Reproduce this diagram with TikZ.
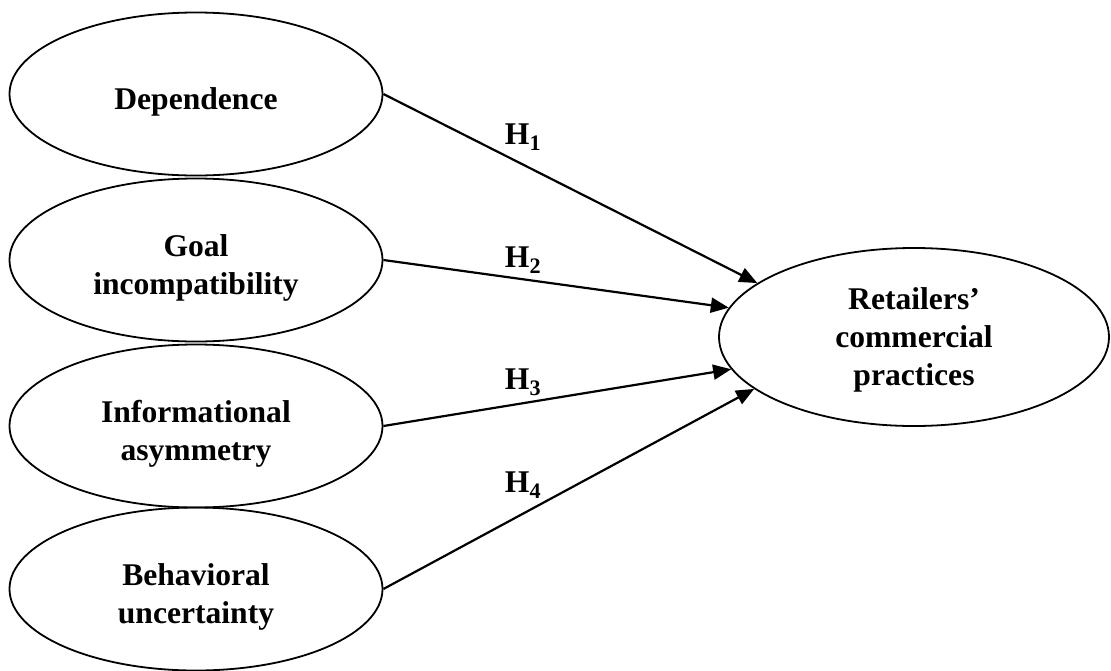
\documentclass[tikz,border=0pt]{standalone}
\usepackage{fontspec}
\setmainfont{Liberation Serif}
\usetikzlibrary{shapes.geometric,arrows.meta}
\begin{document}
\begin{tikzpicture}[x=1pt,y=-1pt,
  oval/.style={draw=black,line width=1.8pt,ellipse,inner sep=0pt,minimum width=373pt,minimum height=163pt},
  bigoval/.style={draw=black,line width=1.8pt,ellipse,inner sep=0pt,minimum width=390pt,minimum height=178pt},
  lbl/.style={align=center,inner sep=0pt,font=\fontsize{31.6}{38}\selectfont\bfseries},
  hyp/.style={inner sep=0pt,font=\fontsize{31.6}{38}\selectfont\bfseries},
  arr/.style={line width=2.2pt,-{Triangle[length=18pt,width=15pt]}}]
\useasboundingbox (0,0) rectangle (1111,670);
\node[oval] (A) at (196,94) {};
\node[oval] (B) at (196,260) {};
\node[oval] (C) at (196,426) {};
\node[oval] (D) at (196,589) {};
\node[bigoval] (R) at (914,337) {};
\node[lbl] (tA) at ([yshift=-8pt]A.center) {Dependence};
\node[lbl] (tB) at ([yshift=-8pt]B.center) {Goal\\incompatibility};
\node[lbl] (tC) at ([yshift=-8pt]C.center) {Informational\\asymmetry};
\node[lbl] (tD) at ([yshift=-8pt]D.center) {Behavioral\\uncertainty};
\node[lbl] (tR) at ([yshift=-3pt]R.center) {Retailers’\\commercial\\practices};
\draw[arr] (A.east) -- (R.161.6);
\draw[arr] (B.east) -- (R.171.2);
\draw[arr] (C.east) -- (R.190);
\draw[arr] (D.east) -- (R.198.8);
\node[hyp] (h1) at (523,137) {H\textsubscript{1}};
\node[hyp] (h2) at (523,260) {H\textsubscript{2}};
\node[hyp] (h3) at (523,382) {H\textsubscript{3}};
\node[hyp] (h4) at (523,485) {H\textsubscript{4}};
\end{tikzpicture}
\end{document}
